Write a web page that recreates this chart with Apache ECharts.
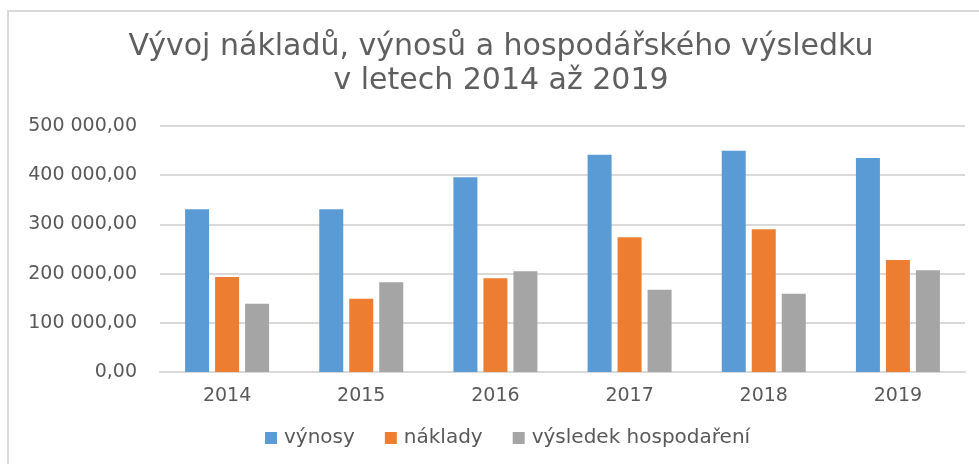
<!DOCTYPE html>
<html>
<head>
<meta charset="utf-8">
<script src="https://cdn.jsdelivr.net/npm/echarts@6/dist/echarts.min.js"></script>
<style>
html,body{margin:0;padding:0;background:#fff;}
#chart{width:979px;height:464px;}
</style>
</head>
<body>
<div id="chart"></div>
<script>
var categories = ['2014', '2015', '2016', '2017', '2018', '2019'];
var vynosy = [331000, 331000, 395700, 441700, 449800, 435000];
var naklady = [193100, 149000, 190400, 273700, 290000, 227600];
var vysledek = [138800, 182300, 204600, 167300, 159100, 206700];
var seriesNames = ['výnosy', 'náklady', 'výsledek hospodaření'];
var titleLines = ['Vývoj nákladů, výnosů a hospodářského výsledku', 'v letech 2014 až 2019'];

var FONT = 'DejaVu Sans';
var TXT = '#595959';

function fmt(v) {
  return Math.round(v).toString().replace(/\B(?=(\d{3})+(?!\d))/g, ' ') + ',00';
}

var chart = echarts.init(document.getElementById('chart'), null, {renderer: 'canvas'});
chart.setOption({
  backgroundColor: '#ffffff',
  animation: false,
  color: ['#5B9BD5', '#ED7D31', '#A5A5A5'],
  title: {
    text: titleLines.join('\n'),
    left: 501,
    top: 30,
    padding: 0,
    textAlign: 'center',
    textStyle: {
      fontFamily: FONT,
      fontSize: 30,
      fontWeight: 'normal',
      color: '#5f5f5f',
      lineHeight: 34
    }
  },
  legend: {
    data: seriesNames,
    left: 265,
    top: 428,
    padding: 0,
    icon: 'rect',
    itemWidth: 12,
    itemHeight: 12,
    itemGap: 30,
    textStyle: {fontFamily: FONT, fontSize: 20, color: TXT, padding: [0, 0, 0, 2]}
  },
  graphic: [{
    type: 'rect',
    shape: {x: 8, y: 11, width: 1000, height: 500},
    style: {fill: null, stroke: '#d9d9d9', lineWidth: 2},
    silent: true
  }],
  grid: {left: 160, right: 14, top: 126, bottom: 92, containLabel: false},
  xAxis: {
    type: 'category',
    data: categories,
    axisTick: {show: false},
    axisLine: {lineStyle: {color: '#d9d9d9', width: 2}},
    axisLabel: {fontFamily: FONT, fontSize: 19, color: TXT, margin: 15}
  },
  yAxis: {
    type: 'value',
    min: 0,
    max: 500000,
    interval: 100000,
    axisLine: {show: false},
    axisTick: {show: false},
    splitLine: {lineStyle: {color: '#d9d9d9', width: 2}},
    axisLabel: {fontFamily: FONT, fontSize: 19, color: TXT, margin: 23, formatter: fmt}
  },
  series: [
    {name: seriesNames[0], type: 'bar', data: vynosy, barWidth: 24, barGap: '25%'},
    {name: seriesNames[1], type: 'bar', data: naklady, barWidth: 24, barGap: '25%'},
    {name: seriesNames[2], type: 'bar', data: vysledek, barWidth: 24, barGap: '25%'}
  ]
});
</script>
</body>
</html>
